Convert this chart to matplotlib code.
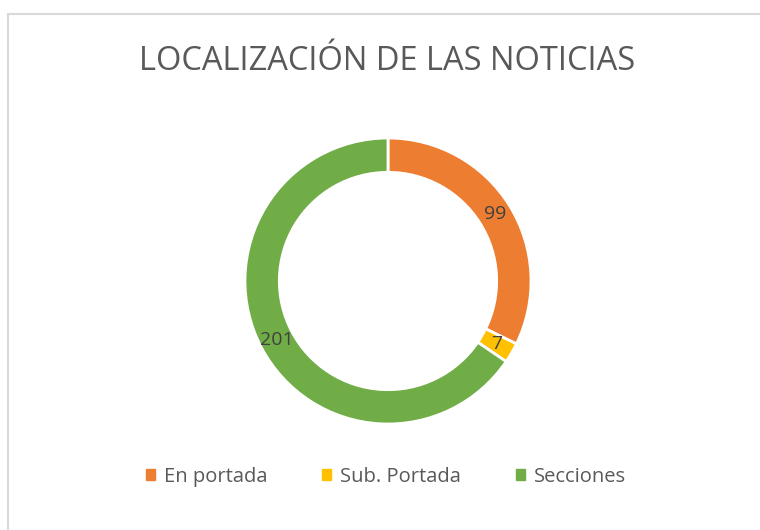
import numpy as np
import matplotlib.pyplot as plt
from matplotlib.patches import Rectangle

categories = ["En portada", "Sub. Portada", "Secciones"]
values = [99, 7, 201]
colors = ["#ED7D31", "#FFC000", "#70AD47"]

plt.rcParams['font.family'] = ['Open Sans', 'DejaVu Sans']

fig = plt.figure(figsize=(7.6, 5.3), dpi=100)
fig.patches.append(Rectangle((7.5 / 760, -0.1), 1.2, (530 - 14) / 530 + 0.1,
                             transform=fig.transFigure, fill=False,
                             edgecolor="#D9D9D9", lw=1.5))

ax = fig.add_axes([(388 - 143) / 760, (530 - 281 - 143) / 530, 286 / 760, 286 / 530])
wedges, _ = ax.pie(values, colors=colors, startangle=90, counterclock=False,
                   radius=1.0, wedgeprops=dict(width=0.24, edgecolor="white", linewidth=2))
ax.set_xlim(-1, 1)
ax.set_ylim(-1, 1)
ax.axis("off")

# numbers sit in the middle of each ring segment
total = sum(values)
start = 90.0
for v in values:
    span = 360.0 * v / total
    ang = np.deg2rad(start - span / 2)
    ax.text(0.88 * np.cos(ang), 0.88 * np.sin(ang), str(v), ha="center", va="center",
            fontsize=14, color="#404040")
    start -= span

fig.text(0.509, (530 - 61) / 530, "LOCALIZACIÓN DE LAS NOTICIAS", ha="center", va="center",
         fontsize=23.5, color="#595959")

handles = [Rectangle((0, 0), 1, 1, color=c) for c in colors]
fig.legend(handles, categories, loc="center", bbox_to_anchor=(0.508, (530 - 477) / 530),
           ncol=3, frameon=False, fontsize=14.5, labelcolor="#595959",
           handlelength=0.45, handleheight=0.45, handletextpad=0.45, columnspacing=2.7)

fig.savefig("out.png", dpi=100)
